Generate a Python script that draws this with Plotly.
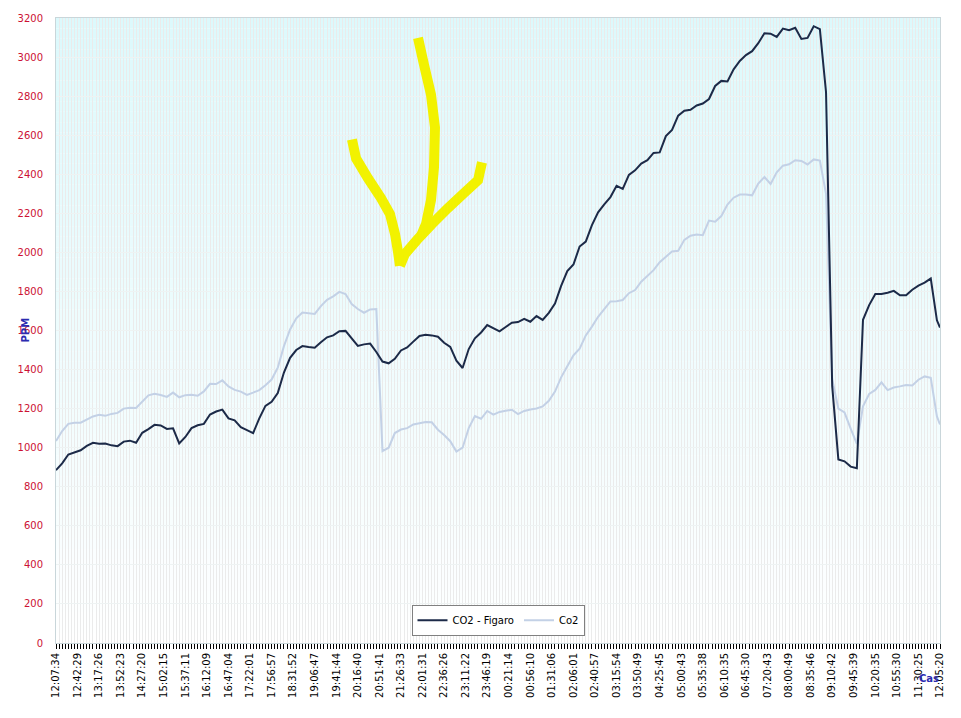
import plotly.graph_objects as go

# ---- data -------------------------------------------------------------
time_labels = [
    "12:07:34", "12:42:29", "13:17:26", "13:52:23", "14:27:20", "15:02:15",
    "15:37:11", "16:12:09", "16:47:04", "17:22:01", "17:56:57", "18:31:52",
    "19:06:47", "19:41:44", "20:16:40", "20:51:41", "21:26:33", "22:01:31",
    "22:36:26", "23:11:22", "23:46:19", "00:21:14", "00:56:10", "01:31:06",
    "02:06:01", "02:40:57", "03:15:54", "03:50:49", "04:25:45", "05:00:43",
    "05:35:38", "06:10:35", "06:45:30", "07:20:43", "08:00:49", "08:35:46",
    "09:10:42", "09:45:39", "10:20:35", "10:55:30", "11:30:25", "12:05:20",
]
n_samples = 288          # one sample every ~5 minutes
label_every = 7          # a time label every 7th sample
read_every = 2

figaro = [
    885, 920, 965, 975, 987, 1009, 1025, 1020, 1021, 1012,
    1008, 1031, 1036, 1025, 1076, 1095, 1117, 1114, 1096, 1099,
    1022, 1055, 1100, 1115, 1122, 1170, 1185, 1195, 1150, 1140,
    1105, 1090, 1075, 1150, 1214, 1235, 1280, 1385, 1460, 1500,
    1520, 1515, 1512, 1540, 1565, 1575, 1596, 1598, 1560, 1521,
    1529, 1533, 1490, 1441, 1432, 1455, 1498, 1513, 1543, 1572,
    1578, 1575, 1568, 1537, 1516, 1445, 1408, 1505, 1560, 1590,
    1628, 1612, 1596, 1618, 1640, 1643, 1660, 1645, 1674, 1654,
    1690, 1738, 1828, 1904, 1938, 2030, 2055, 2140, 2205, 2246,
    2283, 2341, 2325, 2397, 2420, 2455, 2472, 2509, 2512, 2595,
    2627, 2700, 2725, 2730, 2752, 2762, 2785, 2852, 2878, 2875,
    2937, 2980, 3010, 3030, 3071, 3122, 3120, 3103, 3146, 3137,
    3150, 3093, 3098, 3158, 3143, 2820, 1315, 940, 930, 903,
    895, 1655, 1730, 1787, 1787, 1793, 1803, 1780, 1780, 1809,
    1830, 1845, 1866, 1652, 1615,
]
co2 = [
    1034, 1085, 1122, 1128, 1128, 1145, 1160, 1168, 1163, 1173,
    1178, 1200, 1205, 1203, 1233, 1268, 1276, 1270, 1260, 1282,
    1258, 1269, 1271, 1266, 1288, 1327, 1326, 1345, 1314, 1296,
    1287, 1270, 1282, 1295, 1320, 1349, 1410, 1520, 1605, 1662,
    1692, 1688, 1685, 1725, 1757, 1775, 1798, 1787, 1735, 1710,
    1691, 1708, 1710, 983, 1000, 1075, 1093, 1100, 1119, 1125,
    1131, 1130, 1092, 1065, 1033, 980, 1000, 1100, 1162, 1148,
    1188, 1169, 1183, 1189, 1194, 1172, 1188, 1196, 1201, 1211,
    1240, 1287, 1360, 1417, 1473, 1507, 1575, 1620, 1670, 1710,
    1749, 1750, 1756, 1791, 1807, 1850, 1882, 1909, 1950, 1978,
    2005, 2008, 2064, 2085, 2091, 2088, 2163, 2157, 2186, 2245,
    2280, 2296, 2296, 2292, 2352, 2386, 2350, 2410, 2444, 2451,
    2472, 2468, 2450, 2476, 2470, 2300, 1350, 1200, 1180, 1098,
    1020, 1212, 1275, 1296, 1334, 1295, 1308, 1314, 1321, 1318,
    1348, 1365, 1358, 1160, 1119,
]
series_names = ["CO2 - Figaro", "Co2"]
y_ticks = list(range(0, 3201, 200))

x_idx = list(range(0, n_samples, read_every)) + [n_samples - 1]

# ---- figure -----------------------------------------------------------
fig = go.Figure()
fig.add_trace(go.Scatter(x=x_idx, y=co2, mode="lines", name=series_names[1],
                         line=dict(color="#c3d1e6", width=2)))
fig.add_trace(go.Scatter(x=x_idx, y=figaro, mode="lines", name=series_names[0],
                         line=dict(color="#1c2a48", width=2)))

# background vertical gradient (cyan at top -> white at bottom)
bands = 60
top = (0xDC, 0xF9, 0xFC)
bot = (0xFF, 0xFF, 0xFF)
for i in range(bands):
    t = (i + 0.5) / bands
    c = tuple(round(bot[j] + (top[j] - bot[j]) * t) for j in range(3))
    fig.add_shape(type="rect", xref="x domain", yref="y domain",
                  x0=0, x1=1, y0=i / bands, y1=(i + 1) / bands,
                  fillcolor="rgb(%d,%d,%d)" % c, line=dict(width=0),
                  layer="below")

# hand drawn yellow arrow (pixel positions -> paper)
L, R, T, B = 56, 940, 15, 643
def P(px, py):
    return (px - L) / (R - L), (B - py) / (B - T)

def path(pts):
    s = ""
    for i, (px, py) in enumerate(pts):
        x, y = P(px, py)
        s += ("M" if i == 0 else "L") + "%.4f,%.4f " % (x, y)
    return s

arrow_strokes = [
    [(418, 35), (424, 62), (431, 92), (435, 125), (434, 165), (431, 198), (426, 222), (421, 234)],
    [(482, 160), (478, 178), (464, 191), (448, 206), (432, 222), (417, 238), (405, 252), (400, 264)],
    [(352, 137), (356, 156), (368, 176), (381, 196), (390, 212), (395, 232), (398, 250), (400, 264)],
]
for st in arrow_strokes:
    fig.add_shape(type="path", xref="paper", yref="paper", path=path(st),
                  line=dict(color="#f2f200", width=10), layer="above")

font_family = "DejaVu Sans, Verdana, sans-serif"
fig.update_layout(
    width=961, height=718,
    margin=dict(l=56, r=21, t=15, b=75),
    paper_bgcolor="white", plot_bgcolor="white",
    font=dict(family=font_family, size=10, color="black"),
    showlegend=True,
    legend=dict(orientation="h", x=0.5, xanchor="center", y=0.0366, yanchor="middle",
                bgcolor="white", bordercolor="#808080", borderwidth=1,
                font=dict(size=10, color="black"), itemwidth=30,
                traceorder="reversed"),
    xaxis=dict(
        range=[0, n_samples - 1],
        tickmode="array",
        tickvals=list(range(0, n_samples, label_every)),
        ticktext=time_labels,
        tickangle=-90,
        ticks="outside", ticklen=5, tickcolor="black", tickwidth=1,
        tickfont=dict(size=10, color="black"),
        showgrid=True, gridcolor="#ebebeb", gridwidth=1,
        minor=dict(tickmode="linear", tick0=0, dtick=1, ticks="outside",
                   ticklen=5, tickcolor="black", tickwidth=1,
                   showgrid=True, gridcolor="#ebebeb", gridwidth=1),
        showline=True, linecolor="#c9d6da", linewidth=1, mirror=True,
        zeroline=False,
    ),
    yaxis=dict(
        range=[0, 3200],
        tickmode="array", tickvals=y_ticks,
        tickfont=dict(size=10, color="#cc1133"),
        ticks="", ticklabelstandoff=10,
        showgrid=True, gridcolor="#eef3f3", gridwidth=1,
        showline=True, linecolor="#c9d6da", linewidth=1, mirror=True,
        zeroline=False,
    ),
    annotations=[
        dict(text="<b>PPM</b>", xref="paper", yref="paper",
             x=P(25, 329)[0], y=P(25, 329)[1], xanchor="center", yanchor="middle",
             textangle=-90, showarrow=False,
             font=dict(size=10, color="#2b2bb0")),
        dict(text="<b>Cas</b>", xref="paper", yref="paper",
             x=P(929, 679)[0], y=P(929, 679)[1], xanchor="center", yanchor="middle",
             showarrow=False,
             font=dict(size=10, color="#2b2bb0")),
    ],
)

fig.write_html("out.html", config={"displayModeBar": False},
               post_script="document.body.style.margin='0';document.body.style.padding='0';")
